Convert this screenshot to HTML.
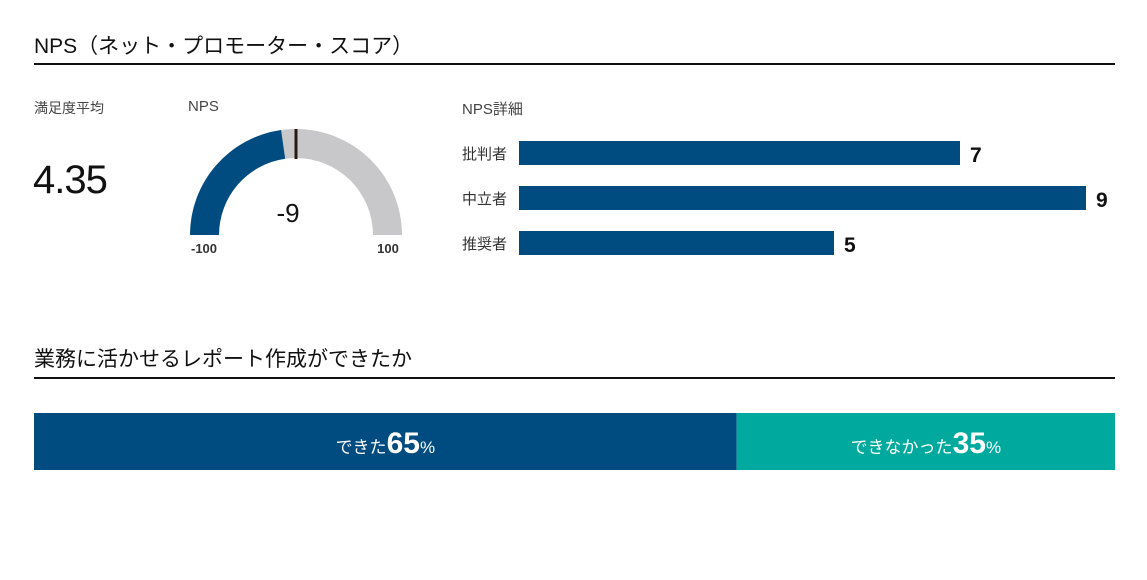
<!DOCTYPE html>
<html><head><meta charset="utf-8"><style>
body{margin:0;width:1147px;height:580px;background:#fff;font-family:"Liberation Sans","Noto Sans CJK JP",sans-serif;position:relative;overflow:hidden}
.a{position:absolute}
</style></head><body>
<div class="a" style="left:34px;top:30px;font-size:21px;color:#111">NPS（ネット・プロモーター・スコア）</div>
<div class="a" style="left:34px;top:63px;width:1081px;height:2px;background:#111"></div>
<div class="a" style="left:34px;top:98px;font-size:14px;color:#444">満足度平均</div>
<div class="a" style="left:33px;top:158px;font-size:40px;color:#111;letter-spacing:-1px">4.35</div>
<div class="a" style="left:188px;top:98px;font-size:15px;color:#444">NPS</div>
<svg class="a" style="left:0;top:0" width="1147" height="580" id="g"></svg>
<div class="a" style="left:462px;top:98px;font-size:15px;color:#444">NPS詳細</div>
<div class="a" style="left:34px;top:343px;font-size:21px;color:#111">業務に活かせるレポート作成ができたか</div>
<div class="a" style="left:34px;top:377px;width:1081px;height:2px;background:#111"></div>
<script>
const npsValue=-9;
const npsMin=-100, npsMax=100, npsMarker=0;
const detailCats=["批判者","中立者","推奨者"];
const detailVals=[7,9,5];
const shareLabels=["できた","できなかった"];
const shareVals=[65,35];
const svg=document.getElementById('g');
const NS='http://www.w3.org/2000/svg';
function mk(t,a){const e=document.createElementNS(NS,t);for(const k in a)e.setAttribute(k,a[k]);svg.appendChild(e);return e;}
const cx=296,cy=235,R=106,r=77;
function ang(v){return Math.PI*(1-(v-npsMin)/(npsMax-npsMin));}
function pt(v,rad){const a=ang(v);return [cx+rad*Math.cos(a),cy-rad*Math.sin(a)];}
function arc(v0,v1){const [x0,y0]=pt(v0,R),[x1,y1]=pt(v1,R),[x2,y2]=pt(v1,r),[x3,y3]=pt(v0,r);
return `M${x0},${y0} A${R},${R} 0 0 1 ${x1},${y1} L${x2},${y2} A${r},${r} 0 0 0 ${x3},${y3} Z`;}
let e=mk('path',{d:arc(npsMin,npsMax),fill:'#c8c8ca'});


e=mk('path',{d:arc(npsMin,npsValue),fill:'#004b80'});


const [mx0,my0]=pt(npsMarker,R),[mx1,my1]=pt(npsMarker,R-30);
e=mk('line',{x1:mx0,y1:my0,x2:mx1,y2:my1,stroke:'#2a1a14','stroke-width':3});


e=mk('text',{x:cx-8,y:222,'font-size':26,'text-anchor':'middle',fill:'#111'});e.textContent=npsValue;


e=mk('text',{x:cx-R+98-98+14,y:253,'font-size':13,'font-weight':'bold','text-anchor':'middle',fill:'#333'});e.textContent=npsMin;


e=mk('text',{x:cx+R-14,y:253,'font-size':13,'font-weight':'bold','text-anchor':'middle',fill:'#333'});e.textContent=npsMax;


// detail bars
const bx=519,bw=567,maxV=9;
function xs(v){return bx+v*bw/maxV;}
detailCats.forEach((c,i)=>{const y=141+i*45;
 let t=mk('text',{x:462,y:y+18,'font-size':15,fill:'#333'});t.textContent=c;
 
 
 let b=mk('rect',{x:bx,y:y,width:xs(detailVals[i])-bx,height:24,fill:'#004b80'});
 
 
 t=mk('text',{x:xs(detailVals[i])+10,y:y+21,'font-size':21,'font-weight':'bold',fill:'#111'});t.textContent=detailVals[i];
 
 
});
// share bar
const sx=34,sw=1081,tot=shareVals.reduce((a,b)=>a+b,0);const cols=['#004b80','#00a99d'];
let acc=0;
shareVals.forEach((v,i)=>{const x=sx+acc/tot*sw,w=v/tot*sw;acc+=v;
 let b=mk('rect',{x:x,y:413,width:w,height:57,fill:cols[i]});
 
 
 let t=mk('text',{x:x+w/2,y:453,'text-anchor':'middle',fill:'#fff','font-size':17});
 
 
 const s1=document.createElementNS(NS,'tspan');s1.textContent=shareLabels[i];t.appendChild(s1);
 const s2=document.createElementNS(NS,'tspan');s2.setAttribute('font-size',30);s2.setAttribute('font-weight','bold');s2.textContent=v;t.appendChild(s2);
 const s3=document.createElementNS(NS,'tspan');s3.setAttribute('font-size',17);s3.textContent='%';t.appendChild(s3);
});
</script>
</body></html>
